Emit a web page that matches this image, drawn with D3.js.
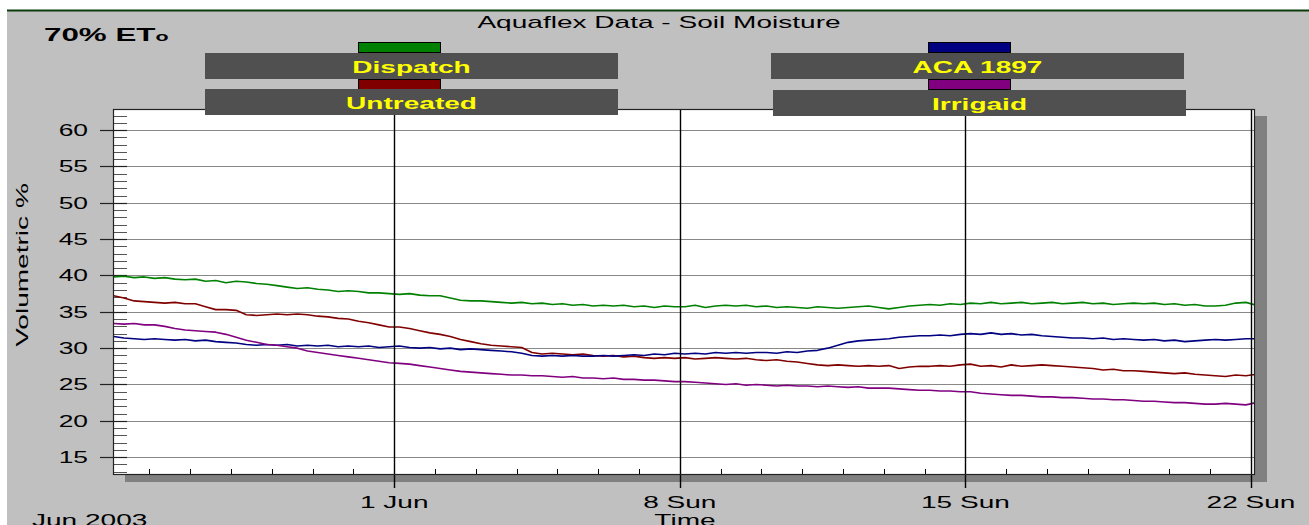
<!DOCTYPE html>
<html>
<head>
<meta charset="utf-8">
<script src="https://cdn.jsdelivr.net/npm/d3@7"></script>
<style>
  body { margin: 0; background: #fff; }
  svg { display: block; font-family: Arial, "Liberation Sans", sans-serif; }
</style>
</head>
<body>
<div id="chart"></div>
<script>
// readings every 6 hours, starting 25 May 2003 03:00
const startTime = new Date(2003, 4, 25, 3);
const stepHours = 6;

const dispatch = [
  39.8, 39.9, 39.7, 39.8,  39.6, 39.7, 39.5, 39.4,  39.5, 39.2, 39.3, 39.0,
  39.2, 39.1, 38.9, 38.8,  38.6, 38.4, 38.2, 38.3,  38.1, 38.0, 37.8, 37.9,
  37.8, 37.6, 37.6, 37.5,  37.4, 37.5, 37.3, 37.2,  37.2, 36.9, 36.6, 36.5,
  36.5, 36.4, 36.3, 36.2,  36.3, 36.1, 36.2, 36.0,  36.1, 35.9, 36.0, 35.8,
  35.9, 35.8, 35.9, 35.7,  35.8, 35.6, 35.8, 35.7,  35.7, 35.9, 35.6, 35.8,
  35.9, 35.8, 35.9, 35.7,  35.8, 35.6, 35.7, 35.6,  35.5, 35.7, 35.6, 35.5,
  35.6, 35.7, 35.8, 35.6,  35.4, 35.6, 35.8, 35.9,  36.0, 35.9, 36.1, 36.0,
  36.2, 36.1, 36.3, 36.1,  36.2, 36.3, 36.1, 36.2,  36.3, 36.1, 36.2, 36.3,
  36.1, 36.2, 36.0, 36.1,  36.2, 36.1, 36.2, 36.0,  36.1, 35.9, 36.0, 35.8,
  35.8, 35.9, 36.2, 36.3,  35.9
];

const untreated = [
  37.2, 36.9, 36.5, 36.4,  36.3, 36.2, 36.3, 36.1,  36.1, 35.7, 35.3, 35.3,
  35.2, 34.6, 34.5, 34.6,  34.7, 34.6, 34.7, 34.6,  34.4, 34.3, 34.1, 34.0,
  33.7, 33.5, 33.2, 32.9,  32.9, 32.7, 32.4, 32.1,  31.9, 31.6, 31.2, 30.9,
  30.6, 30.4, 30.3, 30.2,  30.1, 29.4, 29.2, 29.3,  29.2, 29.1, 29.2, 29.0,
  28.9, 29.0, 28.8, 28.9,  28.7, 28.6, 28.7, 28.6,  28.7, 28.5, 28.6, 28.7,
  28.6, 28.5, 28.6, 28.4,  28.3, 28.4, 28.2, 28.1,  27.9, 27.7, 27.6, 27.7,
  27.6, 27.5, 27.6, 27.5,  27.6, 27.2, 27.4, 27.5,  27.5, 27.6, 27.5, 27.7,
  27.8, 27.5, 27.6, 27.4,  27.7, 27.5, 27.6, 27.7,  27.6, 27.5, 27.4, 27.3,
  27.2, 27.0, 27.1, 26.9,  26.9, 26.8, 26.7, 26.6,  26.5, 26.6, 26.4, 26.3,
  26.2, 26.1, 26.3, 26.2,  26.4
];

const aca1897 = [
  31.6, 31.4, 31.3, 31.2,  31.3, 31.2, 31.1, 31.2,  31.0, 31.1, 30.9, 30.8,
  30.7, 30.5, 30.4, 30.5,  30.4, 30.5, 30.3, 30.4,  30.3, 30.4, 30.2, 30.3,
  30.2, 30.3, 30.1, 30.2,  30.3, 30.1, 30.0, 30.1,  29.9, 30.0, 29.8, 29.9,
  29.8, 29.7, 29.6, 29.5,  29.3, 29.0, 28.9, 29.0,  28.9, 29.0, 28.9, 28.9,
  29.0, 28.9, 29.0, 29.1,  29.0, 29.2, 29.1, 29.3,  29.2, 29.3, 29.2, 29.4,
  29.3, 29.4, 29.3, 29.4,  29.4, 29.3, 29.5, 29.4,  29.6, 29.7, 30.0, 30.4,
  30.8, 31.0, 31.1, 31.2,  31.3, 31.5, 31.6, 31.7,  31.7, 31.8, 31.7, 31.9,
  32.0, 31.9, 32.1, 31.9,  32.0, 31.8, 31.9, 31.7,  31.6, 31.5, 31.4, 31.4,
  31.3, 31.4, 31.2, 31.3,  31.2, 31.1, 31.2, 31.0,  31.1, 30.9, 31.0, 31.1,
  31.2, 31.1, 31.2, 31.3,  31.3
];

const irrigaid = [
  33.4, 33.3, 33.4, 33.2,  33.2, 33.0, 32.7, 32.5,  32.4, 32.3, 32.2, 31.9,
  31.5, 31.1, 30.8, 30.5,  30.4, 30.2, 30.0, 29.6,  29.4, 29.2, 29.0, 28.8,
  28.6, 28.4, 28.2, 28.0,  27.9, 27.8, 27.6, 27.4,  27.2, 27.0, 26.8, 26.7,
  26.6, 26.5, 26.4, 26.3,  26.3, 26.2, 26.2, 26.1,  26.0, 26.1, 25.9, 25.9,
  25.8, 25.9, 25.7, 25.7,  25.6, 25.6, 25.5, 25.4,  25.4, 25.3, 25.2, 25.1,
  25.0, 25.1, 24.9, 25.0,  24.9, 24.8, 24.9, 24.8,  24.8, 24.7, 24.8, 24.7,
  24.6, 24.7, 24.5, 24.5,  24.5, 24.4, 24.3, 24.2,  24.2, 24.1, 24.1, 24.0,
  24.0, 23.8, 23.7, 23.6,  23.5, 23.5, 23.4, 23.3,  23.3, 23.2, 23.2, 23.1,
  23.0, 23.0, 22.9, 22.9,  22.8, 22.7, 22.7, 22.6,  22.5, 22.5, 22.4, 22.3,
  22.3, 22.4, 22.3, 22.2,  22.5
];

const seriesNames = ['Dispatch', 'Untreated', 'ACA 1897', 'Irrigaid'];
const seriesValues = [dispatch, untreated, aca1897, irrigaid];
const seriesColors = ['#008000', '#800000', '#000080', '#800080'];

const yTicks = [15, 20, 25, 30, 35, 40, 45, 50, 55, 60];
const xTickDates = [new Date(2003, 5, 1), new Date(2003, 5, 8), new Date(2003, 5, 15), new Date(2003, 5, 22)];
const xTickLabels = ['1 Jun', '8 Sun', '15 Sun', '22 Sun'];

const W = 1309, H = 525;
const SX = 1.65; // the original font is drawn wide

const svg = d3.select('#chart').append('svg')
  .attr('width', W)
  .attr('height', H);

function label(parent, x, y, str, size, weight, anchor, fill, rot) {
  return parent.append('text')
    .attr('transform', `translate(${x},${y})` + (rot ? ` rotate(${rot})` : '') + ` scale(${SX},1)`)
    .attr('font-size', size)
    .attr('font-weight', weight)
    .attr('text-anchor', anchor)
    .attr('fill', fill)
    .text(str);
}

// panel background
svg.append('rect').attr('x', 7).attr('y', 11).attr('width', W - 7).attr('height', H - 11).attr('fill', '#c0c0c0');
svg.append('line').attr('x1', 7).attr('x2', W).attr('y1', 10.5).attr('y2', 10.5)
  .attr('stroke', '#0b3a0b').attr('stroke-width', 2);

const plot = { left: 113, right: 1255, top: 109, bottom: 475 };

const x = d3.scaleTime()
  .domain([new Date(2003, 4, 25, 2, 34), new Date(2003, 5, 22, 2, 21)])
  .range([plot.left, plot.right]);
const y = d3.scaleLinear()
  .domain([12.55, 62.9])
  .range([plot.bottom, plot.top]);

// shadow + plot area
svg.append('rect')
  .attr('x', plot.left + 12).attr('y', plot.top + 7)
  .attr('width', plot.right - plot.left).attr('height', plot.bottom - plot.top)
  .attr('fill', '#808080');
svg.append('rect')
  .attr('x', plot.left).attr('y', plot.top)
  .attr('width', plot.right - plot.left).attr('height', plot.bottom - plot.top)
  .attr('fill', '#fff');

// horizontal grid
svg.append('g').selectAll('line').data(yTicks).enter().append('line')
  .attr('x1', plot.left).attr('x2', plot.right)
  .attr('y1', d => Math.round(y(d)) + 0.5).attr('y2', d => Math.round(y(d)) + 0.5)
  .attr('stroke', '#888').attr('stroke-width', 1.2);

// y minor ticks (inside) and major ticks
svg.append('g').selectAll('line').data(d3.range(13, 63)).enter().append('line')
  .attr('x1', plot.left).attr('x2', plot.left + 14)
  .attr('y1', d => Math.round(y(d)) + 0.5).attr('y2', d => Math.round(y(d)) + 0.5)
  .attr('stroke', '#555').attr('stroke-width', 1);
svg.append('g').selectAll('line').data(yTicks).enter().append('line')
  .attr('x1', plot.left - 13).attr('x2', plot.left + 14)
  .attr('y1', d => Math.round(y(d)) + 0.5).attr('y2', d => Math.round(y(d)) + 0.5)
  .attr('stroke', '#222').attr('stroke-width', 1.2);

// y labels
const yl = svg.append('g');
yTicks.forEach(v => label(yl, 88, y(v) + 6, v, 16, 'normal', 'end', '#000'));
label(svg, 28, 265, 'Volumetric %', 17, 'normal', 'middle', '#000', -90);

// x minor ticks (daily)
svg.append('g').selectAll('line')
  .data(d3.timeDay.range(new Date(2003, 4, 26), new Date(2003, 5, 23)))
  .enter().append('line')
  .attr('x1', d => Math.round(x(d)) + 0.5).attr('x2', d => Math.round(x(d)) + 0.5)
  .attr('y1', plot.bottom - 6).attr('y2', plot.bottom)
  .attr('stroke', '#000').attr('stroke-width', 1);

// series
svg.append('clipPath').attr('id', 'clip').append('rect')
  .attr('x', plot.left).attr('y', plot.top)
  .attr('width', plot.right - plot.left).attr('height', plot.bottom - plot.top);

const line = d3.line()
  .x((d, i) => x(d3.timeHour.offset(startTime, i * stepHours)))
  .y(d => y(d));

svg.append('g').attr('clip-path', 'url(#clip)')
  .selectAll('path').data(seriesValues).enter().append('path')
  .attr('d', d => line(d))
  .attr('fill', 'none')
  .attr('stroke', (d, i) => seriesColors[i])
  .attr('stroke-width', 1.6)
  .attr('stroke-linejoin', 'round');

// major x lines
svg.append('g').selectAll('line').data(xTickDates).enter().append('line')
  .attr('x1', d => Math.round(x(d)) + 0.5).attr('x2', d => Math.round(x(d)) + 0.5)
  .attr('y1', plot.top).attr('y2', plot.bottom + 13)
  .attr('stroke', '#000').attr('stroke-width', 1.4);

// frame
svg.append('rect')
  .attr('x', plot.left + 0.5).attr('y', plot.top + 0.5)
  .attr('width', plot.right - plot.left - 1).attr('height', plot.bottom - plot.top - 1)
  .attr('fill', 'none').attr('stroke', '#222').attr('stroke-width', 1.2);

// x labels
const xl = svg.append('g');
xTickDates.forEach((d, i) => label(xl, x(d), 508, xTickLabels[i], 17, 'normal', 'middle', '#000'));
label(svg, 32, 526, 'Jun 2003', 17, 'normal', 'start', '#000');
label(svg, (plot.left + plot.right) / 2 + 1, 526, 'Time', 17, 'normal', 'middle', '#000');

// titles
label(svg, 659, 28, 'Aquaflex Data - Soil Moisture', 17, 'normal', 'middle', '#000');
const eto = label(svg, 44, 41, '70% ET', 19, 'bold', 'start', '#000');
eto.append('tspan').attr('font-size', 13).text('o');

// legend
const legendPos = [
  { bx: 205, by: 53, sx: 358, sy: 42 },
  { bx: 205, by: 89, sx: 358, sy: 79 },
  { bx: 771, by: 53, sx: 928, sy: 42 },
  { bx: 773, by: 90, sx: 928, sy: 79 }
];
const lg = svg.append('g');
seriesNames.forEach((name, i) => {
  const p = legendPos[i];
  lg.append('rect').attr('x', p.sx + 0.5).attr('y', p.sy + 0.5).attr('width', 82).attr('height', 10)
    .attr('fill', seriesColors[i]).attr('stroke', '#000').attr('stroke-width', 1);
});
seriesNames.forEach((name, i) => {
  const p = legendPos[i];
  lg.append('rect').attr('x', p.bx).attr('y', p.by).attr('width', 413).attr('height', 26)
    .attr('fill', '#505050');
  label(lg, p.bx + 206.5, p.by + 19.5, name, 17, 'bold', 'middle', '#ffff00');
});
</script>
</body>
</html>
